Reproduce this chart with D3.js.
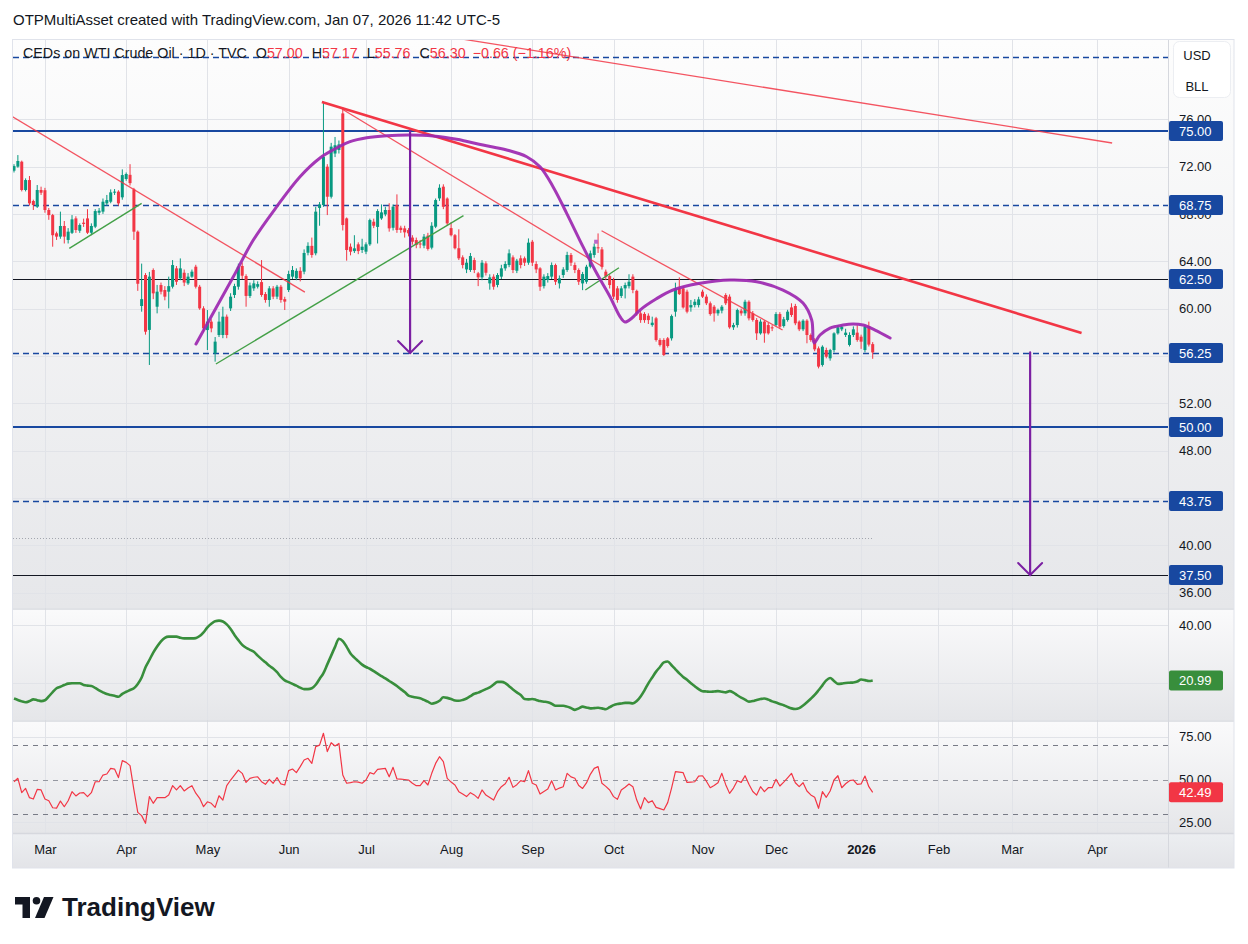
<!DOCTYPE html>
<html><head><meta charset="utf-8">
<script src="https://cdn.jsdelivr.net/npm/d3@7"></script>
<style>
html,body{margin:0;padding:0;background:#fff;}
svg{display:block;font-family:"Liberation Sans",Arial,sans-serif;}
</style></head><body>
<svg id="c" width="1248" height="944"></svg>
<script>
// ---------------- DATA ----------------
const firstDate = "2025-02-19";
const holidays = ["2025-04-18","2025-05-26","2025-06-19","2025-07-04","2025-09-01","2025-11-27","2025-12-25","2026-01-01","2026-01-19","2026-02-16","2026-04-03"];
const tickDates = ["2025-03-03","2025-04-01","2025-05-01","2025-06-02","2025-07-01","2025-08-01","2025-09-02","2025-10-01","2025-11-03","2025-12-01","2026-01-02","2026-02-02","2026-03-02","2026-04-01"];
const tickLabels = ["Mar","Apr","May","Jun","Jul","Aug","Sep","Oct","Nov","Dec","2026","Feb","Mar","Apr"];

// daily candles [open, high, low, close]
const ohlc = [
[71.65,72.2,71.5,72.04],[71.99,72.97,71.9,72.47],[72.41,72.5,69.9,70.02],[70.02,71.0,69.9,70.86],[70.86,71.2,68.7,68.89],
[69.09,69.2,68.33,68.75],[68.61,70.44,68.5,70.02],[70.02,70.3,69.6,69.79],[70.0,70.2,68.1,68.33],[68.33,68.5,67.5,67.9],
[67.9,68.0,65.23,66.2],[66.36,66.5,65.8,66.08],[66.08,68.19,65.9,66.98],[66.98,67.4,65.5,66.08],[65.8,66.8,65.5,66.5],
[66.4,67.9,66.3,67.54],[67.62,67.8,66.4,66.64],[66.58,67.2,66.4,67.06],[67.26,67.6,66.9,67.15],[67.62,68.4,66.3,66.41],
[66.41,67.2,66.2,66.98],[66.92,68.4,66.8,68.24],[68.1,68.5,67.9,68.27],[68.19,69.3,68.0,69.03],[68.89,69.6,68.7,69.17],
[69.03,70.07,68.9,69.82],[69.8,70.1,69.6,69.88],[69.88,70.0,68.7,68.89],[69.4,71.76,69.2,71.28],[70.95,71.5,70.8,71.37],
[71.3,72.2,70.4,70.6],[70.07,70.2,65.8,66.5],[66.5,66.6,61.5,62.1],[60.22,63.8,59.74,60.8],[62.84,63.0,57.8,58.05],
[58.2,63.1,55.24,62.7],[63.26,63.4,60.8,61.29],[60.16,62.0,59.6,61.43],[61.99,62.2,61.2,61.43],[61.57,61.9,60.7,61.01],
[61.43,62.7,60.02,61.9],[61.85,64.1,61.7,63.68],[63.4,63.6,62.0,62.27],[62.56,64.24,62.4,63.4],[63.03,63.3,61.9,62.2],
[62.13,63.0,62.0,62.7],[62.7,63.3,62.6,63.12],[63.54,63.7,61.7,61.85],[61.85,62.0,59.9,60.02],[60.02,60.2,58.0,58.33],
[58.19,59.88,56.5,58.9],[58.9,59.1,58.0,58.33],[56.22,57.6,55.52,57.21],[57.77,59.74,57.6,58.9],[57.77,60.16,57.5,59.32],
[59.32,59.5,57.5,57.77],[60.02,61.3,59.8,61.01],[61.15,62.1,60.9,61.9],[61.85,63.8,61.6,63.54],[63.6,63.9,62.5,62.78],
[62.75,62.9,60.16,61.07],[61.07,62.2,60.9,61.96],[61.71,62.4,61.5,62.13],[61.85,62.3,61.7,62.07],[62.24,64.1,61.0,61.15],
[61.23,61.4,60.5,60.73],[60.73,61.9,60.16,61.71],[61.71,61.9,60.8,61.01],[61.01,62.0,60.8,61.85],[61.85,62.0,60.5,60.73],
[60.8,61.0,59.88,60.59],[61.57,63.2,61.4,62.92],[62.7,63.6,62.5,63.26],[62.56,63.4,62.4,63.19],[63.19,63.5,62.3,62.56],
[63.12,65.0,62.9,64.7],[64.72,65.6,64.5,65.3],[65.3,66.0,64.3,64.53],[64.67,68.6,64.5,68.19],[68.5,69.0,67.0,68.8],
[68.75,77.48,68.6,72.83],[71.99,72.2,67.9,69.45],[69.45,74.0,69.3,73.68],[73.1,74.5,72.8,73.8],[73.4,74.2,73.1,73.87],
[76.49,77.0,66.6,67.06],[67.62,67.7,64.05,64.95],[65.23,65.5,64.5,64.81],[64.86,66.2,64.7,65.09],[65.43,65.6,64.6,64.86],
[64.95,65.9,64.7,65.23],[64.81,65.6,64.6,65.43],[65.43,67.6,65.3,67.48],[67.34,67.6,66.8,67.0],[66.9,68.4,65.5,68.24],
[67.62,68.8,67.5,68.13],[67.96,68.6,67.8,68.33],[68.33,68.9,66.5,66.78],[66.83,68.8,66.6,68.61],[68.75,69.65,66.4,66.64],
[66.83,67.0,66.4,66.64],[66.78,67.0,66.0,66.44],[66.64,66.8,66.1,66.36],[66.0,66.2,65.4,65.65],[65.79,66.0,65.1,65.37],
[65.5,65.8,65.1,65.43],[65.32,66.3,65.1,66.08],[66.16,66.4,64.9,65.04],[65.15,67.3,65.0,67.0],[66.92,69.3,66.8,69.17],
[69.31,70.5,69.1,70.21],[70.3,70.5,68.4,68.6],[69.3,69.4,67.0,67.2],[66.8,67.3,66.1,66.2],[66.2,66.3,65.0,65.1],
[65.1,66.7,64.1,64.25],[64.33,64.5,63.4,63.68],[63.31,64.2,63.0,63.88],[63.26,64.7,63.1,64.44],[64.1,64.3,63.0,63.26],
[62.98,63.1,61.9,62.64],[62.64,64.1,62.4,63.88],[63.82,64.0,62.8,63.03],[62.13,62.9,61.6,62.64],[62.7,62.9,61.6,61.85],
[62.0,63.0,61.8,62.84],[62.7,63.7,62.5,63.4],[63.4,64.0,63.2,63.77],[63.68,65.0,63.5,64.67],[64.33,64.5,63.0,63.26],
[63.2,64.2,63.0,64.05],[64.25,64.5,63.4,63.68],[64.25,64.4,63.6,63.88],[63.88,65.93,63.7,65.57],[65.65,65.8,63.6,63.88],
[63.77,64.0,63.0,63.31],[63.4,63.5,61.5,61.85],[61.9,62.9,61.7,62.7],[62.42,63.0,62.2,62.75],[62.7,63.9,62.5,63.68],
[63.68,63.8,62.0,62.27],[62.13,62.8,61.7,62.56],[62.84,63.5,62.6,63.31],[63.26,64.8,63.1,64.53],[64.53,64.7,63.6,63.88],
[63.68,63.9,63.0,63.26],[63.26,63.4,62.0,62.27],[62.13,63.1,61.56,62.92],[62.27,63.7,62.1,63.54],[63.54,64.9,63.4,64.67],
[64.53,65.5,64.3,65.23],[65.18,66.35,64.7,65.09],[65.0,65.2,63.3,63.54],[63.12,63.3,62.4,62.7],[62.75,62.9,61.7,61.99],
[62.42,62.6,60.8,61.01],[61.71,61.9,60.5,60.73],[61.07,61.9,60.9,61.71],[61.71,62.2,60.86,61.99],[61.9,62.9,61.7,62.27],
[62.7,62.9,61.3,61.57],[61.5,61.6,59.4,59.6],[59.6,59.8,58.8,59.03],[59.55,59.7,58.8,59.03],[59.4,59.6,58.7,59.03],
[58.61,59.32,58.47,58.81],[59.18,59.3,57.21,57.35],[57.35,57.5,56.8,56.93],[57.35,57.5,56.0,56.08],[57.49,57.6,56.7,56.84],
[57.49,59.5,57.3,59.37],[59.74,62.19,59.32,61.71],[61.71,62.64,61.15,61.23],[61.71,61.9,60.0,60.1],[61.43,61.6,59.6,59.74],
[60.1,60.73,59.74,60.3],[60.3,60.8,60.1,60.58],[60.3,61.0,60.1,60.78],[61.43,61.6,60.9,61.01],[61.01,61.2,60.3,60.45],
[60.45,60.6,59.4,59.54],[60.16,60.3,58.9,59.6],[59.6,60.0,59.4,59.88],[59.83,60.3,59.6,60.16],[61.15,61.3,60.3,60.45],
[61.01,61.2,58.3,58.42],[58.42,58.8,58.2,58.61],[58.61,60.0,58.4,59.88],[59.83,60.0,59.4,59.6],[59.6,60.75,59.4,60.58],
[60.58,60.7,59.0,59.18],[59.6,59.8,58.9,59.04],[59.04,59.2,57.35,57.91],[57.91,59.1,57.8,58.9],[58.9,59.0,57.12,57.91],
[58.61,58.8,57.8,57.91],[58.42,58.6,58.1,58.33],[58.61,59.7,58.5,59.54],[59.54,59.7,58.3,58.47],[58.53,59.3,58.4,59.1],
[59.04,59.9,58.9,59.74],[60.1,60.45,59.3,59.46],[60.22,60.4,58.6,58.76],[58.9,59.0,58.1,58.25],[58.25,59.1,58.1,58.98],
[58.98,59.1,57.07,57.77],[57.77,57.9,57.2,57.35],[57.35,57.5,56.4,56.56],[56.64,56.8,54.95,55.1],[55.24,56.9,55.1,56.78],
[56.5,56.7,55.8,55.94],[55.8,56.6,55.6,56.5],[56.5,58.0,56.3,57.91],[57.91,58.6,57.8,58.42],[58.25,58.6,58.1,58.47],
[57.77,58.3,57.6,57.97],[56.93,58.0,56.8,57.77],[57.77,58.5,57.6,58.25],[57.97,58.6,57.2,57.35],[57.63,57.8,56.6,57.21],
[56.5,58.6,56.3,58.47],[58.53,58.9,56.8,56.96],[57.00,57.17,55.76,56.30]
];

// middle pane (green oscillator)
const oscValues = [
14.8,14.3,13.8,13.5,13.9,14.5,14.2,13.9,14.2,15.5,
17.0,18.3,18.8,19.4,19.9,20.0,20.0,20.0,19.4,19.2,
19.1,18.4,17.6,16.9,16.3,16.0,15.7,15.4,16.4,17.1,
17.7,18.3,19.8,22.0,25.5,28.0,30.5,32.6,34.4,35.6,
36.0,36.0,36.0,35.6,35.4,35.4,35.4,35.5,36.2,37.5,
39.2,40.4,41.3,41.5,41.2,40.2,38.6,36.6,34.8,33.2,
32.2,31.5,30.8,29.5,28.3,27.2,26.0,25.1,23.8,22.2,
21.0,20.4,19.8,19.2,18.5,18.0,18.0,18.3,19.5,21.5,
23.5,26.5,29.5,32.5,35.3,34.5,32.5,30.2,28.8,27.6,
26.4,25.6,25.0,24.2,23.3,22.5,21.7,20.8,20.0,19.1,
18.0,17.0,15.8,15.4,15.1,14.9,14.3,13.7,13.0,13.3,
14.0,15.2,15.0,14.6,14.1,14.0,14.3,14.8,15.6,16.4,
16.8,17.4,18.0,18.6,19.6,20.5,20.5,20.1,19.0,17.9,
16.9,16.0,14.6,14.5,14.6,14.3,13.9,13.7,13.5,13.0,
12.3,12.3,12.3,12.0,11.5,10.9,11.4,12.0,11.7,11.4,
11.5,11.6,11.4,11.1,11.8,12.5,12.9,13.1,13.3,13.3,
13.1,13.9,15.5,17.6,20.0,22.0,24.0,25.6,27.2,27.5,
26.2,24.8,23.4,22.2,21.2,20.0,19.0,18.0,17.3,17.2,
17.1,17.2,17.3,17.1,16.9,17.3,16.8,15.9,15.1,14.4,
13.7,13.9,14.3,14.6,14.8,14.4,13.8,13.4,12.9,12.5,
11.9,11.4,11.2,11.5,12.4,13.5,14.7,16.0,17.6,19.3,
21.0,21.8,20.8,19.8,19.9,20.1,20.2,20.3,20.6,21.3,
21.1,20.8,20.99
];

// bottom pane (RSI)
const rsiValues = [
48.7,50.7,42.3,44.8,39.4,38.6,44.2,43.9,38.6,37.6,
33.5,33.3,37.4,34.1,37.6,42.9,40.4,42.1,42.3,40.0,
42.3,48.7,48.7,52.6,53.2,56.5,56.1,51.1,61.0,60.0,
58.1,43.9,30.8,28.9,24.4,40.0,36.1,39.4,39.4,39.4,
40.9,46.4,43.9,46.4,43.3,45.0,46.4,42.0,39.0,34.1,
37.0,36.1,33.7,40.5,38.0,46.4,49.7,52.5,55.5,53.6,
48.3,50.7,51.3,51.6,48.7,47.2,50.1,47.8,51.1,47.4,
46.8,55.2,56.1,54.0,57.5,61.4,62.4,59.4,69.2,70.1,
77.0,66.3,71.5,69.6,71.1,52.6,47.8,48.2,48.7,48.5,
47.8,49.7,54.0,53.2,55.9,56.2,56.5,51.6,57.1,50.3,
50.2,50.0,49.7,47.8,46.4,46.4,49.3,46.8,53.6,59.4,
63.3,60.4,50.7,48.5,46.8,42.9,41.5,40.0,42.3,41.0,
39.0,43.9,40.9,39.5,38.0,42.9,45.8,47.5,51.3,45.4,
47.0,49.3,48.7,55.2,47.8,46.8,41.5,43.0,44.4,49.3,
43.9,45.0,45.8,53.6,51.5,50.7,46.5,44.8,48.0,53.0,
56.5,57.5,47.8,46.0,43.9,40.0,38.4,43.9,45.5,47.4,
45.8,38.0,32.8,39.4,36.5,37.6,33.7,33.0,32.2,36.5,
45.0,54.6,54.3,54.0,48.3,48.5,48.7,52.0,52.2,49.0,
45.2,46.5,48.1,53.6,47.0,41.9,45.0,49.3,48.3,52.2,
47.2,43.0,40.9,45.8,42.9,45.2,45.2,50.1,46.2,48.5,
51.0,53.6,48.1,45.8,48.1,43.3,41.0,39.6,33.2,42.9,
39.6,43.3,49.7,52.2,45.2,47.5,49.3,49.7,47.2,47.4,
52.0,45.8,42.49
];

// horizontal price levels
const solidLevels = [75, 50];
const dashedLevels = [81.25, 68.75, 56.25, 43.75];
const thinLevels = [62.5, 37.5];
const labelLevels = [75, 68.75, 62.5, 56.25, 50, 43.75, 37.5];
const dottedLevel = 40.62;

// price axis ticks (labels hidden by level boxes are omitted, as in the reference)
const priceTickValues = [36, 40, 48, 52, 60, 64, 68, 72, 76];
const priceGridValues = [36, 40, 44, 48, 52, 56, 60, 64, 68, 72, 76];
const oscTickValues = [40];
const oscGridValues = [40, 20];
const rsiTickValues = [75, 50, 25];
const rsiGridValues = [75, 25];

// trend lines [bar, price]
const redThinLines = [
  [[-3, 76.72], [75.2, 61.39]],
  [[84.8, 76.86], [152.3, 63.51]],
  [[151.9, 66.58], [198.7, 58.19]],
  [[100, 83.6], [283.9, 73.99]]
];
const redThickLines = [ [[79.6, 77.45], [276, 57.94]] ];
const greenLines = [
  [[14.3, 65.09], [33.0, 68.89]],
  [[52.2, 55.32], [116.2, 67.85]],
  [[147.7, 61.57], [156.4, 63.45]]
];
// purple pattern curves [bar, price]
const arcPoints = [
  [47.05,57.01],[52.4,60.16],[56.7,62.69],[61.87,65.79],[67.92,68.61],[73.94,71.14],[79.11,72.72],
  [82.47,73.4],[86.87,74.1],[91.18,74.43],[96.35,74.6],[102.38,74.66],[108.32,74.58],[114.45,74.3],
  [121.25,73.82],[127.38,73.4],[132.55,72.83],[135.99,71.98],[139.35,70.3],[142.89,68.05],[147.1,65.23],
  [150.65,62.98],[154.09,61.0],[156.67,59.32],[157.96,58.87],[159.77,59.21],[161.84,59.88],[165.98,60.81],
  [170.37,61.57],[177.35,62.14],[185.11,62.42],[192.01,62.27],[198.81,61.57],[203.98,60.47],[206.23,59.04],
  [206.83,57.09],[208.38,57.77],[210.96,58.36],[214.32,58.61],[216.91,58.7],[219.49,58.61],[222.6,58.19],[226.5,57.52]
];
const arrows = [ [102.4, 75, 56.25], [262.7, 56.3, 37.5] ];
const markerPoint = [150.5, 65.65];

const lastOsc = 20.99, lastRsi = 42.49;
const rsiLevels = [70, 50, 30];

// ---------------- LAYOUT ----------------
const W = 1248, H = 944;
const plotL = 13, plotR = 1168, axisR = 1234;
const mainTop = 40, mainBot = 608, p2Top = 610, p2Bot = 720, p3Top = 722, p3Bot = 833, timeTop = 834, timeBot = 868;
const GREEN = "#089981", RED = "#f23645", BLUE = "#1848a0", PURPLE = "#9c27b0", TXT = "#131722";
const crisp = v => Math.round(v) + 0.5;

// trading calendar
function ymd(d){return d.toISOString().slice(0,10);}
const dates = [];
{
  let d = new Date(firstDate + "T00:00:00Z");
  const end = new Date("2026-04-30T00:00:00Z");
  while (d <= end) {
    const wd = d.getUTCDay();
    const s = ymd(d);
    if (wd !== 0 && wd !== 6 && !holidays.includes(s)) dates.push(s);
    d = new Date(d.getTime() + 86400000);
  }
}
const tickIdx = tickDates.map(t => dates.indexOf(t));

const x = d3.scaleLinear().domain([0, 222]).range([14, 872.7]);
const yMain = d3.scaleLinear().domain([34.71, 82.69]).range([mainBot, mainTop]);
const yP2 = d3.scaleLinear().domain([7.41, 45.15]).range([p2Bot, p2Top]);
const yP3 = d3.scaleLinear().domain([18.75, 83.59]).range([p3Bot, p3Top]);

const svg = d3.select("#c");
const defs = svg.append("defs");
function grad(id, c1, c2){
  const g = defs.append("linearGradient").attr("id", id).attr("x1",0).attr("y1",0).attr("x2",0).attr("y2",1);
  g.append("stop").attr("offset","0%").attr("stop-color",c1);
  g.append("stop").attr("offset","100%").attr("stop-color",c2);
}
grad("gMain","#fdfdfd","#e6e7ea");
grad("gPane","#fafafb","#e5e6e9");
grad("gTime","#eceef1","#e3e4e8");
function clip(id, y0, y1){
  defs.append("clipPath").attr("id", id).append("rect").attr("x", plotL).attr("y", y0).attr("width", plotR - plotL).attr("height", y1 - y0);
}
clip("cMain", mainTop, mainBot); clip("cP2", p2Top, p2Bot); clip("cP3", p3Top, p3Bot);

// backgrounds
svg.append("rect").attr("x",0).attr("y",0).attr("width",W).attr("height",H).attr("fill","#fff");
svg.append("rect").attr("x",12).attr("y",mainTop).attr("width",axisR-12).attr("height",mainBot-mainTop).attr("fill","url(#gMain)");
svg.append("rect").attr("x",12).attr("y",p2Top).attr("width",axisR-12).attr("height",p2Bot-p2Top).attr("fill","url(#gPane)");
svg.append("rect").attr("x",12).attr("y",p3Top).attr("width",axisR-12).attr("height",p3Bot-p3Top).attr("fill","url(#gPane)");
svg.append("rect").attr("x",12).attr("y",timeTop).attr("width",axisR-12).attr("height",timeBot-timeTop).attr("fill","url(#gTime)");

// grid
const grid = svg.append("g").attr("stroke","#e1e3e8").attr("stroke-width",1);
grid.selectAll("line.h").data(priceGridValues).join("line").attr("class","h")
  .attr("x1",plotL).attr("x2",plotR).attr("y1",d=>crisp(yMain(d))).attr("y2",d=>crisp(yMain(d)));
grid.selectAll("line.p2").data(oscGridValues).join("line").attr("class","p2")
  .attr("x1",plotL).attr("x2",plotR).attr("y1",d=>crisp(yP2(d))).attr("y2",d=>crisp(yP2(d)));
grid.selectAll("line.p3").data(rsiGridValues).join("line").attr("class","p3")
  .attr("x1",plotL).attr("x2",plotR).attr("y1",d=>crisp(yP3(d))).attr("y2",d=>crisp(yP3(d)));
grid.selectAll("line.v").data(tickIdx).join("line").attr("class","v")
  .attr("x1",d=>crisp(x(d))).attr("x2",d=>crisp(x(d))).attr("y1",mainTop).attr("y2",timeTop);

// pane separators and axis separator
const sep = svg.append("g").attr("stroke","#d6d8de");
[609, 721, 833.5].forEach(y => sep.append("line").attr("x1",12).attr("x2",axisR).attr("y1",y).attr("y2",y).attr("stroke-width", 1.5));
sep.append("line").attr("x1",plotR+0.5).attr("x2",plotR+0.5).attr("y1",mainTop).attr("y2",timeBot);
svg.append("rect").attr("x",12.5).attr("y",mainTop-0.5).attr("width",axisR-12.5).attr("height",timeBot-mainTop+0.5)
  .attr("fill","none").attr("stroke","#e0e3eb");

// ---------------- MAIN PANE ----------------
const gM = svg.append("g").attr("clip-path","url(#cMain)");

gM.selectAll("line.dl").data(dashedLevels).join("line").attr("class","dl")
  .attr("x1",plotL).attr("x2",plotR).attr("y1",d=>crisp(yMain(d))).attr("y2",d=>crisp(yMain(d)))
  .attr("stroke",BLUE).attr("stroke-width",1.3).attr("stroke-dasharray","6,4");
gM.selectAll("line.tl").data(thinLevels).join("line").attr("class","tl")
  .attr("x1",plotL).attr("x2",plotR).attr("y1",d=>crisp(yMain(d))).attr("y2",d=>crisp(yMain(d)))
  .attr("stroke","#131722").attr("stroke-width",1);
gM.selectAll("line.sl").data(solidLevels).join("line").attr("class","sl")
  .attr("x1",plotL).attr("x2",plotR).attr("y1",d=>Math.round(yMain(d))).attr("y2",d=>Math.round(yMain(d)))
  .attr("stroke",BLUE).attr("stroke-width",2);
gM.append("line").attr("x1",plotL).attr("x2",x(222)).attr("y1",crisp(yMain(dottedLevel))).attr("y2",crisp(yMain(dottedLevel)))
  .attr("stroke","#a3a6ae").attr("stroke-width",1).attr("stroke-dasharray","1,2");

// candles
const cg = gM.append("g");
cg.selectAll("line.w").data(ohlc).join("line").attr("class","w")
  .attr("x1",(d,i)=>x(i)).attr("x2",(d,i)=>x(i))
  .attr("y1",d=>yMain(d[1])).attr("y2",d=>yMain(d[2]))
  .attr("stroke",d=>d[3]>=d[0]?GREEN:RED).attr("stroke-width",1);
cg.selectAll("rect.b").data(ohlc).join("rect").attr("class","b")
  .attr("x",(d,i)=>x(i)-1.5).attr("width",3)
  .attr("y",d=>yMain(Math.max(d[0],d[3])))
  .attr("height",d=>Math.max(1, Math.abs(yMain(d[0])-yMain(d[3]))))
  .attr("fill",d=>d[3]>=d[0]?GREEN:RED);

// trend lines
const seg = d3.line().x(d=>x(d[0])).y(d=>yMain(d[1]));
gM.selectAll("path.gl").data(greenLines).join("path").attr("class","gl")
  .attr("d",seg).attr("stroke","#43a047").attr("stroke-width",1.4).attr("fill","none");
gM.selectAll("path.rt").data(redThinLines).join("path").attr("class","rt")
  .attr("d",seg).attr("stroke",RED).attr("stroke-opacity",0.85).attr("stroke-width",1.3).attr("fill","none");
gM.selectAll("path.rk").data(redThickLines).join("path").attr("class","rk")
  .attr("d",seg).attr("stroke",RED).attr("stroke-width",2.6).attr("fill","none");

// purple curve
const curve = d3.line().x(d=>x(d[0])).y(d=>yMain(d[1])).curve(d3.curveCatmullRom.alpha(0.5));
gM.append("path").datum(arcPoints).attr("d",curve).attr("stroke",PURPLE).attr("stroke-opacity",0.92)
  .attr("stroke-width",3).attr("fill","none").attr("stroke-linecap","round");

// arrows
const ag = gM.append("g").attr("stroke","#7b1fa2").attr("fill","none").attr("stroke-linecap","round");
arrows.forEach(a => {
  const ax = x(a[0]), y0 = yMain(a[1]), y1 = yMain(a[2]);
  ag.append("line").attr("x1",ax).attr("x2",ax).attr("y1",y0).attr("y2",y1).attr("stroke-width",2.2);
  ag.append("path").attr("d",`M${ax-12},${y1-12}L${ax},${y1}L${ax+12},${y1-12}`).attr("stroke-width",2);
});
gM.append("rect").attr("x",x(markerPoint[0])-2).attr("y",yMain(markerPoint[1])-2).attr("width",4).attr("height",4)
  .attr("fill","#ba68c8");

// ---------------- OSC PANE ----------------
const gP2 = svg.append("g").attr("clip-path","url(#cP2)");
gP2.append("path").datum(oscValues).attr("d", d3.line().x((d,i)=>x(i)).y(d=>yP2(d)).curve(d3.curveMonotoneX))
  .attr("stroke","#388e3c").attr("stroke-width",2.6).attr("fill","none").attr("stroke-linejoin","round");

// ---------------- RSI PANE ----------------
const gP3 = svg.append("g").attr("clip-path","url(#cP3)");
gP3.selectAll("line.r").data(rsiLevels).join("line").attr("class","r")
  .attr("x1",plotL).attr("x2",plotR).attr("y1",d=>crisp(yP3(d))).attr("y2",d=>crisp(yP3(d)))
  .attr("stroke",d=>d===50?"#9598a1":"#787b86").attr("stroke-width",1).attr("stroke-dasharray","5,5");
gP3.append("path").datum(rsiValues).attr("d", d3.line().x((d,i)=>x(i)).y(d=>yP3(d)))
  .attr("stroke",RED).attr("stroke-width",1.2).attr("fill","none").attr("stroke-linejoin","round");

// ---------------- AXES ----------------
function styleAxis(g){
  g.select(".domain").remove();
  g.selectAll("text").attr("fill",TXT).style("font-size","13px").style("font-family",'"Liberation Sans",Arial,sans-serif');
}
svg.append("g").attr("transform",`translate(${plotR},0)`)
  .call(d3.axisRight(yMain).tickValues(priceTickValues).tickFormat(d3.format(".2f")).tickSize(0).tickPadding(11)).call(styleAxis);
svg.append("g").attr("transform",`translate(${plotR},0)`)
  .call(d3.axisRight(yP2).tickValues(oscTickValues).tickFormat(d3.format(".2f")).tickSize(0).tickPadding(11)).call(styleAxis);
svg.append("g").attr("transform",`translate(${plotR},0)`)
  .call(d3.axisRight(yP3).tickValues(rsiTickValues).tickFormat(d3.format(".2f")).tickSize(0).tickPadding(11)).call(styleAxis);

const tAxis = svg.append("g").attr("transform",`translate(0,${timeTop+8})`)
  .call(d3.axisBottom(x).tickValues(tickIdx).tickFormat((d,i)=>tickLabels[i]).tickSize(0).tickPadding(3)).call(styleAxis);
tAxis.selectAll("text").style("font-weight",(d,i)=>tickLabels[i]==="2026"?"bold":"normal");

// level label boxes
function labelBox(y, txt, fill){
  const g = svg.append("g");
  g.append("rect").attr("x",plotR+1).attr("y",y-10).attr("width",54).attr("height",20).attr("rx",2).attr("fill",fill);
  g.append("text").attr("x",plotR+11).attr("y",y).attr("dy","0.35em").attr("fill","#fff")
    .style("font-size","13px").text(txt);
}
labelLevels.forEach(v => labelBox(yMain(v), d3.format(".2f")(v), BLUE));
labelBox(yP2(lastOsc), d3.format(".2f")(lastOsc), "#388e3c");
labelBox(yP3(lastRsi), d3.format(".2f")(lastRsi), RED);

// currency box
svg.append("rect").attr("x",1173.5).attr("y",41.5).attr("width",57).attr("height",56).attr("rx",6)
  .attr("fill","#fff").attr("stroke","#eceef2");
svg.append("text").attr("x",1197).attr("y",55).attr("dy","0.35em").attr("text-anchor","middle").attr("fill",TXT).style("font-size","13px").text("USD");
svg.append("text").attr("x",1197).attr("y",86).attr("dy","0.35em").attr("text-anchor","middle").attr("fill",TXT).style("font-size","13px").text("BLL");

// ---------------- HEADER ----------------
svg.append("text").attr("x",13).attr("y",20).attr("dy","0.35em").attr("fill",TXT).style("font-size","15px")
  .text("OTPMultiAsset created with TradingView.com, Jan 07, 2026 11:42 UTC-5");
const leg = svg.append("text").attr("x",23).attr("y",53).attr("dy","0.35em").attr("fill",TXT).style("font-size","14.3px");
leg.append("tspan").text("CEDs on WTI Crude Oil · 1D · TVC");
const last = ohlc[ohlc.length-1];
const prevClose = ohlc[ohlc.length-2][3];
[["O",last[0]],["H",last[1]],["L",last[2]],["C",last[3]]].forEach(([k,v]) => {
  leg.append("tspan").attr("dx",9).text(k);
  leg.append("tspan").attr("fill",RED).text(d3.format(".2f")(v));
});
const chg = last[3]-prevClose;
leg.append("tspan").attr("dx",7).attr("fill",RED)
  .text(`${d3.format(".2f")(chg).replace("-","−")} (${d3.format(".2f")(chg/prevClose*100).replace("-","−")}%)`);

// ---------------- FOOTER LOGO ----------------
const logo = svg.append("g").attr("transform","translate(15,897)").attr("fill",TXT);
logo.append("path").attr("d","M0,0H15V21H7.5V7.5H0Z");
logo.append("circle").attr("cx",21.5).attr("cy",3.8).attr("r",3.8);
logo.append("path").attr("d","M29,0H38.5L29.5,21H20Z");
svg.append("text").attr("x",62).attr("y",907).attr("dy","0.35em").attr("fill",TXT)
  .style("font-size","26px").style("font-weight","bold").text("TradingView");
</script>
</body></html>
